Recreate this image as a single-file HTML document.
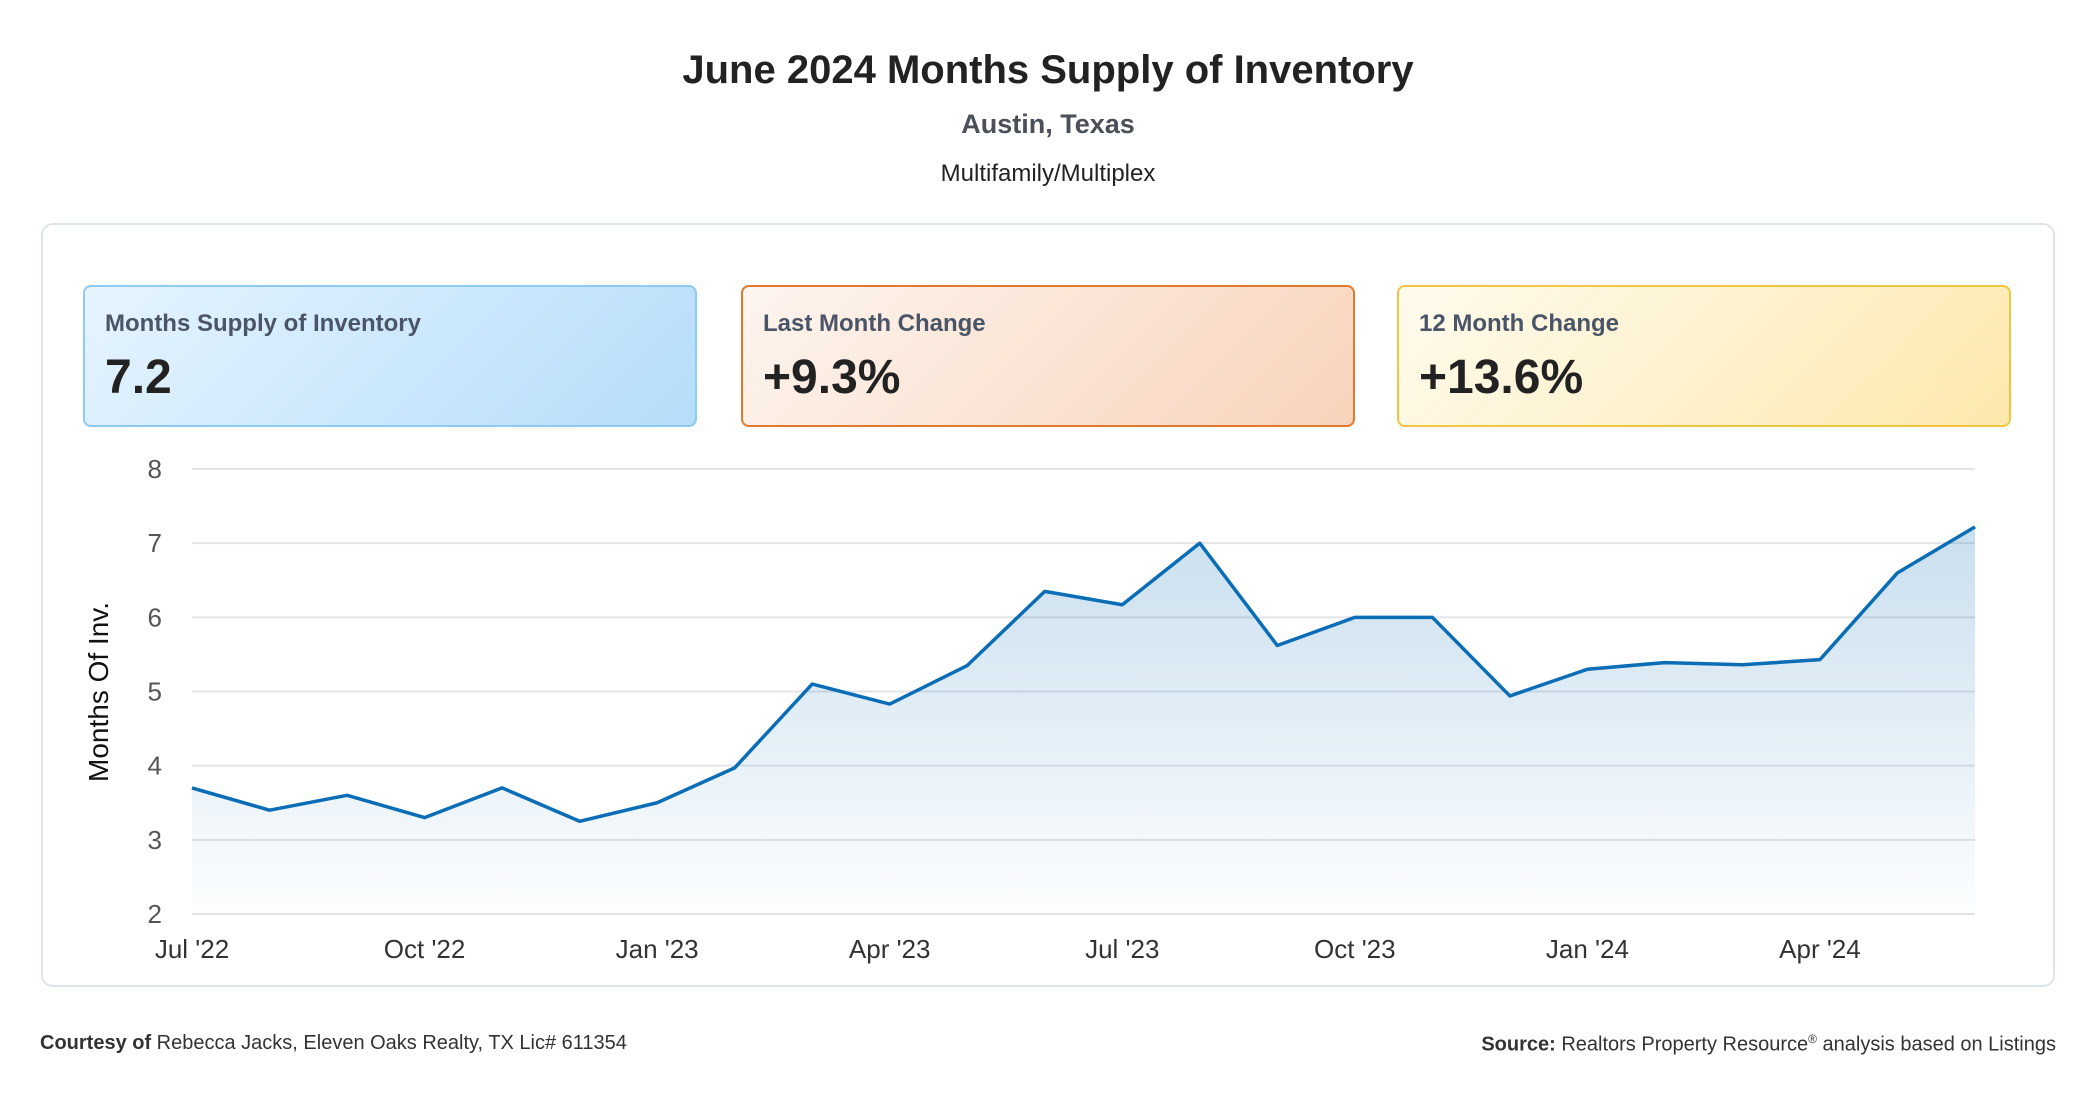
<!DOCTYPE html>
<html><head><meta charset="utf-8"><style>
body{margin:0;width:2096px;height:1100px;background:#fff;font-family:"Liberation Sans",sans-serif;position:relative;overflow:hidden}
.abs{position:absolute}
.kpi{position:absolute;top:285px;height:142px;width:614px;border-radius:8px;box-sizing:border-box;border:2px solid}
.kpi .l{position:absolute;left:20px;top:23px;font-size:24px;font-weight:bold;color:#4a5568}
.kpi .v{position:absolute;left:20px;top:63px;font-size:48px;font-weight:bold;color:#222}
</style></head><body>
<div class="abs" style="left:0;width:2096px;top:48px;text-align:center;font-size:40px;font-weight:bold;color:#222">June 2024 Months Supply of Inventory</div>
<div class="abs" style="left:0;width:2096px;top:109px;text-align:center;font-size:27px;font-weight:bold;color:#4a4f58">Austin, Texas</div>
<div class="abs" style="left:0;width:2096px;top:160px;text-align:center;font-size:24px;color:#222">Multifamily/Multiplex</div>
<div class="abs" style="left:41px;top:223px;width:2014px;height:764px;box-sizing:border-box;border:2px solid #dde5ec;border-radius:12px"></div>
<div class="kpi" style="left:83px;background:linear-gradient(135deg,#e6f4fe,#b5ddfa);border-color:#8fcaf2"><div class="l">Months Supply of Inventory</div><div class="v">7.2</div></div>
<div class="kpi" style="left:741px;background:linear-gradient(135deg,#fdf5ef,#f8d3bb);border-color:#df7a2f"><div class="l">Last Month Change</div><div class="v">+9.3%</div></div>
<div class="kpi" style="left:1397px;background:linear-gradient(135deg,#fffbee,#fde8ad);border-color:#f0c640"><div class="l">12 Month Change</div><div class="v">+13.6%</div></div>
<svg class="abs" style="left:0;top:0" width="2096" height="1100" id="chart">
<defs><linearGradient id="fg" x1="0" y1="0" x2="0" y2="1"><stop offset="0" stop-color="#0a6db5" stop-opacity="0.22"/><stop offset="1" stop-color="#0a6db5" stop-opacity="0.01"/></linearGradient></defs>
<text transform="translate(108,692) rotate(-90)" text-anchor="middle" font-size="28" fill="#111" font-family="Liberation Sans, sans-serif">Months Of Inv.</text>
</svg>
<div class="abs" style="left:40px;top:1032px;font-size:20px;color:#333"><b>Courtesy of</b> Rebecca Jacks, Eleven Oaks Realty, TX Lic# 611354</div>
<div class="abs" style="right:40px;top:1032px;font-size:20px;color:#333"><b>Source:</b> Realtors Property Resource<sup style="font-size:12px">®</sup> analysis based on Listings</div>
<script>
const categories=["Jul '22","Aug '22","Sep '22","Oct '22","Nov '22","Dec '22","Jan '23","Feb '23","Mar '23","Apr '23","May '23","Jun '23","Jul '23","Aug '23","Sep '23","Oct '23","Nov '23","Dec '23","Jan '24","Feb '24","Mar '24","Apr '24","May '24","Jun '24"];
const values=[3.7,3.4,3.6,3.3,3.7,3.25,3.5,3.97,5.1,4.83,5.35,6.35,6.17,7.0,5.62,6.0,6.0,4.94,5.3,5.39,5.36,5.43,6.6,7.22];
const yTicks=[2,3,4,5,6,7,8];
const xTickLabels=["Jul '22","Oct '22","Jan '23","Apr '23","Jul '23","Oct '23","Jan '24","Apr '24"];
const svg=document.getElementById('chart');const NS='http://www.w3.org/2000/svg';
const X0=192,X1=1975,Y8=469,Y2=914;
function x(i){return X0+(X1-X0)*i/(categories.length-1);}
function y(v){return Y2-(v-2)*(Y2-Y8)/6;}
function mk(t,a){const e=document.createElementNS(NS,t);for(const k in a)e.setAttribute(k,a[k]);svg.appendChild(e);return e;}
yTicks.forEach(t=>{
const g=mk('line',{x1:X0,x2:X1,y1:y(t),y2:y(t),stroke:'#e2e4e7','stroke-width':2});


const l=mk('text',{x:162,y:y(t)+9,'text-anchor':'end','font-size':26,fill:'#555','font-family':'Liberation Sans, sans-serif'});l.textContent=t;


});
xTickLabels.forEach(lab=>{const i=categories.indexOf(lab);
const t=mk('text',{x:x(i),y:958,'text-anchor':'middle','font-size':26,fill:'#333','font-family':'Liberation Sans, sans-serif'});t.textContent=lab;


});
let d=values.map((v,i)=>(i?'L':'M')+x(i)+','+y(v)).join(' ');
const area=mk('path',{d:d+' L'+x(values.length-1)+','+Y2+' L'+X0+','+Y2+' Z',fill:'url(#fg)'});


const line=mk('path',{d:d,fill:'none',stroke:'#0a6db5','stroke-width':3.5,'stroke-linejoin':'round'});


</script>
</body></html>
